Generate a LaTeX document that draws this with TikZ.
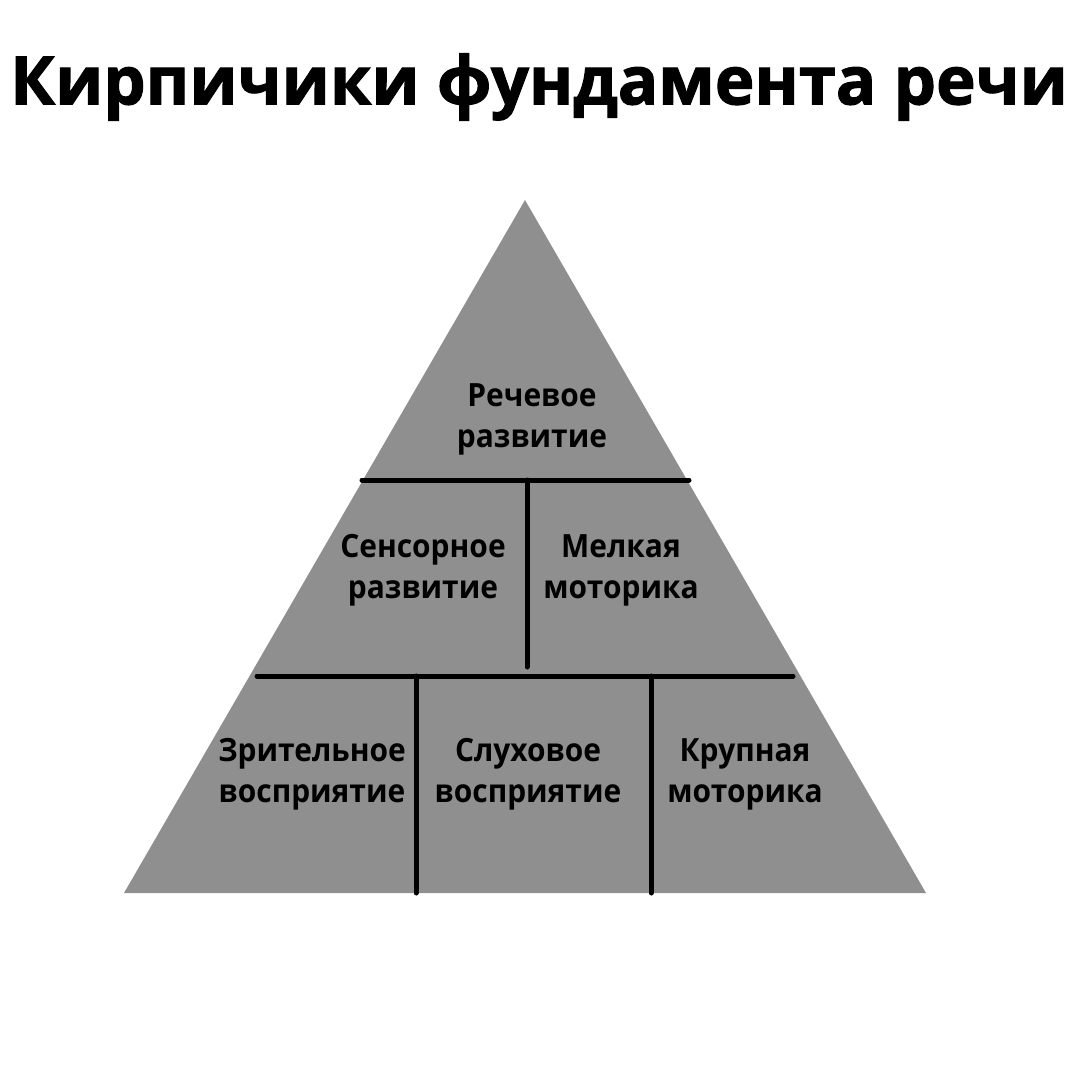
\documentclass[tikz,border=0pt]{standalone}
\usepackage{fontspec}
\setmainfont{Open Sans}
\newfontfamily\brickfont{Open Sans}[FakeStretch=0.935]
\newfontfamily\titlefont{Open Sans}[BoldFeatures={FakeBold=1.6}]
\usepackage[HTML]{xcolor}
\usepackage{tikz}
\usetikzlibrary{positioning}
\definecolor{brick}{HTML}{8F8F8F}

\begin{document}
\begin{tikzpicture}[x=1pt,y=-1pt,
  label/.style={align=center,font=\brickfont\bfseries\fontsize{32}{41}\selectfont,inner sep=0pt},
  seam/.style={line width=5pt,line cap=round}]
\useasboundingbox (0,0) rectangle (1080,1080);
% title
\node[font=\titlefont\bfseries\fontsize{67}{70}\selectfont,inner sep=0pt] (title) at (539,87) {Кирпичики фундамента речи};

% pyramid
\fill[brick] (525,200) -- (926,893) -- (124,893) -- cycle;

% seams
\coordinate (t1l) at (362,480); \coordinate (t1r) at (689,480);
\coordinate (t1m) at (527,480); \coordinate (t1b) at (527,667);
\coordinate (t2l) at (257,676); \coordinate (t2r) at (793,676);
\coordinate (t2a) at (416,676); \coordinate (b2a) at (416,893);
\coordinate (t2b) at (651,676); \coordinate (b2b) at (651,893);
\draw[seam] (t1l) -- (t1r);
\draw[seam] (t1m) -- (t1b);
\draw[seam] (t2l) -- (t2r);
\draw[seam] (t2a) -- (b2a);
\draw[seam] (t2b) -- (b2b);

% bricks
\node[label] (speech) at (532,419) {Речевое\\развитие};
\node[label] (sensor) at (423,570) {Сенсорное\\развитие};
\node[label] (fine) at (621,570) {Мелкая\\моторика};
\node[label] (visual) at (312,774) {Зрительное\\восприятие};
\node[label] (hearing) at (528,774) {Слуховое\\восприятие};
\node[label] (gross) at (745,774) {Крупная\\моторика};
\end{tikzpicture}
\end{document}
